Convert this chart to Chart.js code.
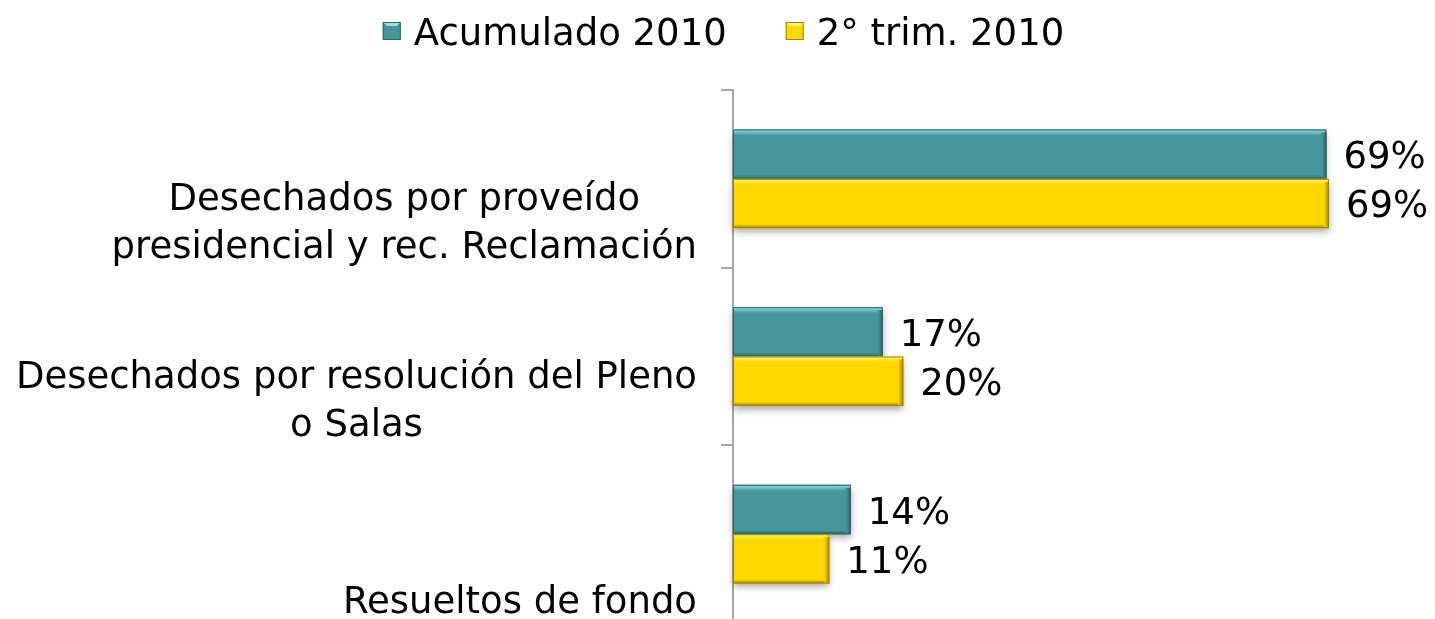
<!DOCTYPE html>
<html>
<head>
<meta charset="utf-8">
<script src="https://cdn.jsdelivr.net/npm/chart.js@4.4.0/dist/chart.umd.min.js"></script>
<style>
  html, body { margin: 0; background: #fff; overflow: hidden; }
  #wrap { width: 1435px; height: 623px; }
</style>
</head>
<body>
<div id="wrap"><canvas id="chart"></canvas></div>
<script>
// categories (multi-line, as shown on the axis)
const categories = [
  ['Desechados por proveído', 'presidencial y rec. Reclamación'],
  ['Desechados por resolución del Pleno', 'o Salas'],
  ['', 'Resueltos de fondo']
];
const seriesNames = ['Acumulado 2010', '2° trim. 2010'];
const acumulado = [69.0, 17.4, 13.7];
const trimestre = [69.3, 19.8, 11.2];

const FONT = '37px "DejaVu Sans", Verdana, sans-serif';
const palette = [
  { base: '#45979c', light: '#93e4ea', dark: '#2b6468' },
  { base: '#ffd800', light: '#fff477', dark: '#a08600' }
];

function barRect(el) {
  const left = Math.min(el.base, el.x);
  const right = Math.max(el.base, el.x);
  return { left, right, top: el.y - el.height / 2, bottom: el.y + el.height / 2 };
}

// soft drop shadow under bars
const barShadow = {
  id: 'barShadow',
  beforeDatasetsDraw(chart) {
    const ctx = chart.ctx;
    chart.data.datasets.forEach((ds, di) => {
      chart.getDatasetMeta(di).data.forEach(el => {
        const r = barRect(el);
        ctx.save();
        ctx.shadowColor = 'rgba(0,0,0,0.35)';
        ctx.shadowBlur = 7;
        ctx.shadowOffsetY = 4;
        ctx.fillStyle = palette[di].base;
        ctx.fillRect(r.left, r.top, r.right - r.left, r.bottom - r.top);
        ctx.restore();
      });
    });
  }
};

// bevel edges + value labels
const bevelAndLabels = {
  id: 'bevelAndLabels',
  afterDatasetsDraw(chart) {
    const ctx = chart.ctx;
    chart.data.datasets.forEach((ds, di) => {
      const c = palette[di];
      chart.getDatasetMeta(di).data.forEach((el, i) => {
        const r = barRect(el);
        const w = r.right - r.left;
        ctx.save();
        let g = ctx.createLinearGradient(0, r.top, 0, r.top + 6);
        g.addColorStop(0, c.light);
        g.addColorStop(1, c.base);
        ctx.fillStyle = g;
        ctx.fillRect(r.left, r.top, w, 6);
        g = ctx.createLinearGradient(0, r.bottom - 4, 0, r.bottom);
        g.addColorStop(0, c.base);
        g.addColorStop(1, c.dark);
        ctx.fillStyle = g;
        ctx.fillRect(r.left, r.bottom - 4, w, 4);
        g = ctx.createLinearGradient(r.right - 5, 0, r.right, 0);
        g.addColorStop(0, c.base);
        g.addColorStop(1, c.dark);
        ctx.fillStyle = g;
        ctx.fillRect(r.right - 5, r.top + 3, 5, r.bottom - r.top - 3);
        ctx.strokeStyle = c.dark;
        ctx.lineWidth = 1;
        ctx.strokeRect(r.left + 0.5, r.top + 0.5, w - 1, r.bottom - r.top - 1);

        ctx.fillStyle = '#000';
        ctx.font = FONT;
        ctx.textAlign = 'left';
        ctx.textBaseline = 'alphabetic';
        ctx.fillText(Math.round(ds.data[i]) + '%', r.right + 17, el.y + 14);
        ctx.restore();
      });
    });
  }
};

// category labels: block right aligned, lines centred inside the block
const categoryLabels = {
  id: 'categoryLabels',
  afterDraw(chart) {
    const ctx = chart.ctx;
    const scale = chart.scales.y;
    ctx.save();
    ctx.font = FONT;
    ctx.fillStyle = '#000';
    ctx.textAlign = 'center';
    ctx.textBaseline = 'alphabetic';
    chart.data.labels.forEach((lines, i) => {
      const widest = Math.max(...lines.map(t => ctx.measureText(t).width));
      const cx = scale.right - 36 - widest / 2;
      const cy = scale.getPixelForTick(i) + 42;
      lines.forEach((t, j) => {
        ctx.fillText(t, cx, cy + (j - (lines.length - 1) / 2) * 48 + 13);
      });
    });
    ctx.restore();
  }
};

// legend at the top
const topLegend = {
  id: 'topLegend',
  afterDraw(chart) {
    const ctx = chart.ctx;
    ctx.save();
    ctx.font = FONT;
    const box = 18, gap = 13, space = 59;
    const items = chart.data.datasets.map((ds, di) => ({
      text: ds.label, color: palette[di], w: box + gap + ctx.measureText(ds.label).width
    }));
    const total = items.reduce((a, it) => a + it.w, 0) + space * (items.length - 1);
    let x = chart.width / 2 - total / 2 + 6;
    items.forEach(it => {
      const c = it.color;
      ctx.fillStyle = c.base;
      ctx.fillRect(x, 22, box, box);
      ctx.fillStyle = c.light;
      ctx.beginPath();
      ctx.moveTo(x, 22); ctx.lineTo(x + box, 22); ctx.lineTo(x + box - 4, 26); ctx.lineTo(x + 4, 26);
      ctx.closePath(); ctx.fill();
      ctx.strokeStyle = c.dark;
      ctx.lineWidth = 1;
      ctx.strokeRect(x + 0.5, 22.5, box - 1, box - 1);
      ctx.fillStyle = '#000';
      ctx.textAlign = 'left';
      ctx.textBaseline = 'alphabetic';
      ctx.fillText(it.text, x + box + gap, 45);
      x += it.w + space;
    });
    ctx.restore();
  }
};

new Chart(document.getElementById('chart').getContext('2d'), {
  type: 'bar',
  data: {
    labels: categories,
    datasets: [
      { label: seriesNames[0], data: acumulado, backgroundColor: palette[0].base },
      { label: seriesNames[1], data: trimestre, backgroundColor: palette[1].base }
    ]
  },
  options: {
    indexAxis: 'y',
    responsive: true,
    maintainAspectRatio: false,
    animation: false,
    layout: { padding: { top: 90, right: 14, bottom: 0, left: 0 } },
    categoryPercentage: 0.555,
    barPercentage: 1,
    scales: {
      x: { display: false, min: 0, max: 80 },
      y: {
        grid: { drawOnChartArea: false, drawTicks: true, tickLength: 12, color: '#a6a6a6', lineWidth: 2, offset: true },
        border: { display: true, color: '#a6a6a6', width: 2 },
        ticks: { display: false },
        afterFit(scale) { scale.width = 733; }
      }
    },
    plugins: {
      legend: { display: false },
      tooltip: { enabled: false }
    }
  },
  plugins: [barShadow, bevelAndLabels, categoryLabels, topLegend]
});
</script>
</body>
</html>
